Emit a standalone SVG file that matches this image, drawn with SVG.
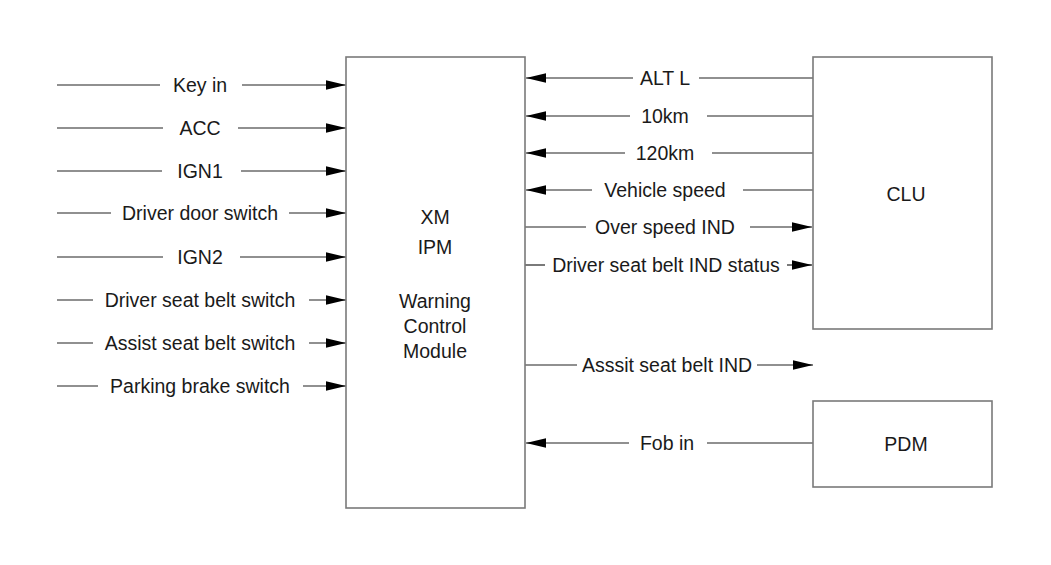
<svg xmlns="http://www.w3.org/2000/svg" width="1051" height="565" viewBox="0 0 1051 565">
<style>
.box{fill:#fff;stroke:#7a7a7a;stroke-width:1.6}
.ln{stroke:#222;stroke-width:1.2;fill:none}
.arr{marker-end:url(#ah)}
text{font-family:"Liberation Sans",Arial,sans-serif;font-size:19.5px;fill:#1a1a1a;text-anchor:middle}
</style>
<defs>
<marker id="ah" markerUnits="userSpaceOnUse" markerWidth="20" markerHeight="10" refX="20" refY="5" orient="auto">
<path d="M0,0.3 L20,5 L0,9.7 z" fill="#000"/>
</marker>
</defs>
<rect width="1051" height="565" fill="#fff"/>
<g id="connectors">
<g id="c-keyin"><line class="ln" x1="57" y1="85" x2="160" y2="85"/><line class="ln arr" x1="242" y1="85" x2="346" y2="85"/><text x="200" y="92">Key in</text></g>
<g id="c-acc"><line class="ln" x1="57" y1="128" x2="163" y2="128"/><line class="ln arr" x1="238" y1="128" x2="346" y2="128"/><text x="200" y="135">ACC</text></g>
<g id="c-ign1"><line class="ln" x1="57" y1="171" x2="162" y2="171"/><line class="ln arr" x1="241" y1="171" x2="346" y2="171"/><text x="200" y="178">IGN1</text></g>
<g id="c-door"><line class="ln" x1="57" y1="213" x2="111" y2="213"/><line class="ln arr" x1="289" y1="213" x2="346" y2="213"/><text x="200" y="220">Driver door switch</text></g>
<g id="c-ign2"><line class="ln" x1="57" y1="257" x2="163" y2="257"/><line class="ln arr" x1="240" y1="257" x2="346" y2="257"/><text x="200" y="264">IGN2</text></g>
<g id="c-dsb"><line class="ln" x1="57" y1="300" x2="93" y2="300"/><line class="ln arr" x1="309" y1="300" x2="346" y2="300"/><text x="200" y="307">Driver seat belt switch</text></g>
<g id="c-asb"><line class="ln" x1="57" y1="343" x2="93" y2="343"/><line class="ln arr" x1="309" y1="343" x2="346" y2="343"/><text x="200" y="350">Assist seat belt switch</text></g>
<g id="c-pbs"><line class="ln" x1="57" y1="386" x2="98" y2="386"/><line class="ln arr" x1="303" y1="386" x2="346" y2="386"/><text x="200" y="393">Parking brake switch</text></g>
<g id="c-altl"><line class="ln arr" x1="633" y1="78" x2="526" y2="78"/><line class="ln" x1="699" y1="78" x2="813" y2="78"/><text x="665" y="85">ALT L</text></g>
<g id="c-10km"><line class="ln arr" x1="630" y1="116" x2="526" y2="116"/><line class="ln" x1="707" y1="116" x2="813" y2="116"/><text x="665" y="123">10km</text></g>
<g id="c-120km"><line class="ln arr" x1="625" y1="153" x2="526" y2="153"/><line class="ln" x1="712" y1="153" x2="813" y2="153"/><text x="665" y="160">120km</text></g>
<g id="c-vs"><line class="ln arr" x1="592" y1="190" x2="526" y2="190"/><line class="ln" x1="743" y1="190" x2="813" y2="190"/><text x="665" y="197">Vehicle speed</text></g>
<g id="c-osi"><line class="ln" x1="525" y1="227" x2="586" y2="227"/><line class="ln arr" x1="750" y1="227" x2="812" y2="227"/><text x="665" y="234">Over speed IND</text></g>
<g id="c-dsbi"><line class="ln" x1="525" y1="265" x2="545" y2="265"/><line class="ln arr" x1="787" y1="265" x2="812" y2="265"/><text x="666" y="272">Driver seat belt IND status</text></g>
<g id="c-asbi"><line class="ln" x1="525" y1="365" x2="577" y2="365"/><line class="ln arr" x1="757" y1="365" x2="813" y2="365"/><text x="667" y="372">Asssit seat belt IND</text></g>
<g id="c-fob"><line class="ln arr" x1="629" y1="443" x2="526" y2="443"/><line class="ln" x1="707" y1="443" x2="813" y2="443"/><text x="667" y="450">Fob in</text></g>
</g>
<g id="node-xm">
<rect class="box" x="346" y="57" width="179" height="451"/>
<text x="435" y="224">XM</text>
<text x="435" y="254">IPM</text>
<text x="435" y="308">Warning</text>
<text x="435" y="333">Control</text>
<text x="435" y="358">Module</text>
</g>
<g id="node-clu">
<rect class="box" x="813" y="57" width="179" height="272"/>
<text x="906" y="201">CLU</text>
</g>
<g id="node-pdm">
<rect class="box" x="813" y="401" width="179" height="86"/>
<text x="906" y="451">PDM</text>
</g>
</svg>
